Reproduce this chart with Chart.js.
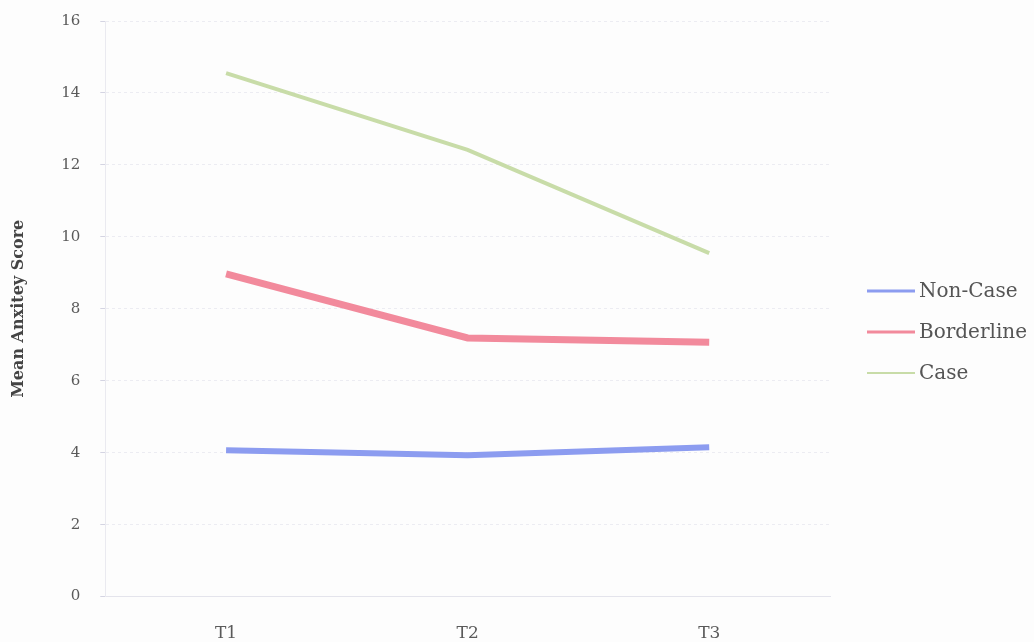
<!DOCTYPE html>
<html>
<head>
<meta charset="utf-8">
<script src="https://cdn.jsdelivr.net/npm/chart.js@4"></script>
<style>
  html, body { margin: 0; padding: 0; background: #fdfdfd; }
  #wrap { width: 1034px; height: 642px; }
</style>
</head>
<body>
<div id="wrap"><canvas id="chart" width="1034" height="642"></canvas></div>
<script>
const timePoints = ['T1', 'T2', 'T3'];
const nonCase = [4.07, 3.93, 4.15];
const borderline = [8.97, 7.19, 7.07];
const caseScores = [14.55, 12.42, 9.55];
const yTicks = [0, 2, 4, 6, 8, 10, 12, 14, 16];

const fontFamily = '"DejaVu Serif", "Liberation Serif", serif';
const textColor = '#5a5a5a';

const canvas = document.getElementById('chart');

// legend drawn by hand so the gap to the plot matches the original
const sideLegend = {
  id: 'sideLegend',
  afterDraw(chart) {
    const ctx = chart.ctx;
    const x = chart.chartArea.right + 37;
    const startY = 291;
    const step = 41;
    const lineWidths = [3, 3, 2];

    ctx.save();
    ctx.font = `20px ${fontFamily}`;
    ctx.textBaseline = 'middle';
    chart.data.datasets.forEach((ds, i) => {
      const y = startY + i * step;
      ctx.strokeStyle = ds.borderColor;
      ctx.lineWidth = lineWidths[i];
      ctx.beginPath();
      ctx.moveTo(x, y);
      ctx.lineTo(x + 48, y);
      ctx.stroke();
      ctx.fillStyle = '#555';
      ctx.fillText(ds.label, x + 52, y + 1);
    });
    ctx.restore();
  },
};

new Chart(canvas, {
  type: 'line',
  data: {
    labels: timePoints,
    datasets: [
      {
        label: 'Non-Case',
        data: nonCase,
        borderColor: '#8c9cf0',
        borderWidth: 6,
        pointRadius: 0,
        tension: 0,
      },
      {
        label: 'Borderline',
        data: borderline,
        borderColor: '#f28a9c',
        borderWidth: 7,
        pointRadius: 0,
        tension: 0,
      },
      {
        label: 'Case',
        data: caseScores,
        borderColor: '#c8dca8',
        borderWidth: 4,
        pointRadius: 0,
        tension: 0,
      },
    ],
  },
  options: {
    responsive: false,
    animation: false,
    layout: { padding: { top: 21, right: 204, bottom: -29, left: 9 } },
    plugins: {
      tooltip: { enabled: false },
      legend: { display: false },
    },
    scales: {
      x: {
        offset: true,
        grid: { display: false, drawTicks: false },
        border: { display: true, color: '#e4e4ec', width: 1 },
        ticks: {
          color: textColor,
          padding: 27,
          font: { family: fontFamily, size: 17 },
        },
      },
      y: {
        min: 0,
        max: 16,
        afterBuildTicks: (axis) => {
          axis.ticks = yTicks.map((v) => ({ value: v }));
        },
        grid: {
          color: '#ececf2',
          tickLength: 17,
          tickColor: '#d4d4e2',
          // only the last few pixels of the tick show, next to the axis
          tickBorderDash: [0, 12, 8, 100],
        },
        border: { display: true, color: '#eaeaf0', dash: [3, 3] },
        ticks: {
          color: textColor,
          padding: 8,
          font: { family: fontFamily, size: 15 },
        },
        title: {
          display: true,
          text: 'Mean Anxitey Score',
          color: '#444',
          padding: { top: 0, bottom: 25 },
          font: { family: fontFamily, size: 16, weight: 'bold' },
        },
      },
    },
  },
  plugins: [sideLegend],
});
</script>
</body>
</html>
